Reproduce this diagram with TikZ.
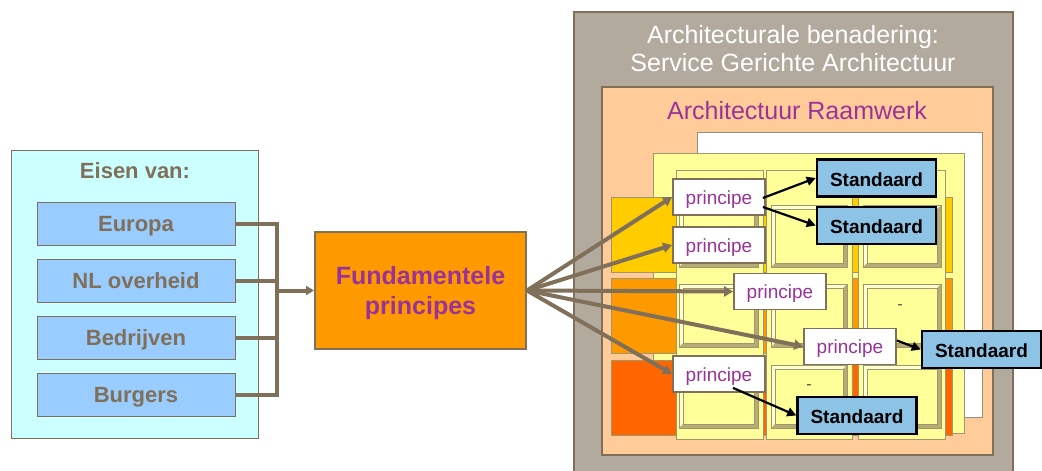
\documentclass[tikz,border=0pt]{standalone}
\usepackage{fontspec}
\setmainfont{Liberation Sans}
\usetikzlibrary{arrows.meta,calc}
\definecolor{brn}{RGB}{128,112,90}
\definecolor{purp}{RGB}{153,51,153}
\definecolor{greybg}{RGB}{179,170,158}
\definecolor{peach}{RGB}{255,204,153}
\definecolor{lyellow}{RGB}{255,255,153}
\definecolor{stdblue}{RGB}{141,195,229}
\definecolor{reqblue}{RGB}{153,204,255}
\definecolor{cyanbg}{RGB}{204,255,255}
\definecolor{forange}{RGB}{255,153,0}
\definecolor{rowA}{RGB}{255,204,0}
\definecolor{rowB}{RGB}{255,153,0}
\definecolor{rowC}{RGB}{255,102,0}
\definecolor{bevlight}{RGB}{255,255,210}
\definecolor{bevdark}{RGB}{182,172,116}
\definecolor{tanline}{RGB}{160,150,110}
\begin{document}
\begin{tikzpicture}[x=1pt,y=-1pt,
  reqbox/.style={draw=brn, line width=1pt, fill=reqblue, minimum width=198pt, minimum height=43pt, inner sep=0pt,
    font=\bfseries\fontsize{22}{26}\selectfont, text=brn, text height=15.8pt, text depth=0pt},
  princ/.style={draw=brn, line width=1.8pt, fill=white, minimum width=92pt, minimum height=36pt, inner sep=0pt,
    font=\fontsize{19}{22}\selectfont, text=purp, text height=14.5pt, text depth=0pt},
  stdbox/.style={draw=black, line width=2.5pt, fill=stdblue, minimum width=119pt, minimum height=37pt, inner sep=0pt,
    font=\bfseries\fontsize{19}{22}\selectfont, text=black, text height=16pt, text depth=0pt},
  gar/.style={draw=brn, line width=4pt, -{Triangle[length=9pt,width=10pt]}},
  busline/.style={draw=brn, line width=4pt},
  bar/.style={draw=black, line width=2.2pt, -{Triangle[length=9pt,width=9pt]}},
  dashlbl/.style={font=\fontsize{16}{18}\selectfont, text=black!70, inner sep=0pt}
]
\useasboundingbox (0,0) rectangle (1042,471);
\clip (0,0) rectangle (1042,471);

% ---------- left side ----------
\node[draw=brn, line width=1pt, fill=cyanbg, minimum width=247pt, minimum height=288pt, inner sep=0pt] (eisen) at (134.5,294) {};
\node[font=\bfseries\fontsize{22}{26}\selectfont, text=brn, anchor=base] (eisenlbl) at (135,178) {Eisen van:};
\node[reqbox] (europa) at (136,223.5) {Europa};
\node[reqbox] (nl) at (136,280.5) {NL overheid};
\node[reqbox] (bedrijven) at (136,338) {Bedrijven};
\node[reqbox] (burgers) at (136,394.5) {Burgers};

\node[draw=brn, line width=2pt, fill=forange, minimum width=211pt, minimum height=117pt, inner sep=0pt, align=center,
  font=\bfseries\fontsize{25}{29.5}\selectfont, text=purp, text depth=0pt] (F) at (420.5,290.5) {Fundamentele\\principes};

\coordinate (busx) at (277,0);
\draw[busline] (europa.east) -| (burgers.east -| busx) -- (burgers.east);
\draw[busline] (nl.east) -- (nl.east -| busx);
\draw[busline] (bedrijven.east) -- (bedrijven.east -| busx);
\draw[busline, -{Triangle[length=8pt,width=9pt]}] (F.west -| busx) -- (F.west);

% ---------- right side: containers ----------
\filldraw[fill=greybg, draw=brn, line width=2pt] (574,12) rectangle (1013,485);
\node[font=\fontsize{25}{28.5}\selectfont, text=white, align=center] (soatitle) at (793,48.5) {Architecturale benadering:\\Service Gerichte Architectuur};
\filldraw[fill=peach, draw=brn, line width=2pt] (602,87) rectangle (993,455);
\node[font=\fontsize{25}{30}\selectfont, text=purp, anchor=base] (raam) at (797,119) {Architectuur Raamwerk};

% ---------- clip-art of the framework ----------
\filldraw[fill=white, draw=brn!80, line width=1pt] (697,132) rectangle (982,417);
\filldraw[fill=lyellow, draw=tanline, line width=0.8pt] (653,153) rectangle (964,433);
\filldraw[fill=rowA, draw=tanline, line width=0.8pt] (611,197) rectangle (952,272);
\filldraw[fill=rowB, draw=tanline, line width=0.8pt] (611,278) rectangle (952,353);
\filldraw[fill=rowC, draw=tanline, line width=0.8pt] (611,360) rectangle (952,435);
\foreach \xa/\xb in {676/763, 766/852, 858/945}
  \filldraw[fill=lyellow, draw=tanline, line width=0.8pt] (\xa,170) rectangle (\xb,439);
\foreach \xa/\xb in {679/758, 771/847, 863/941}
  \foreach \ya/\yb in {205/267, 284/347, 365/428} {
    \fill[lyellow] (\xa,\ya) rectangle (\xb,\yb);
    \fill[bevlight] (\xa,\ya) -- (\xb,\ya) -- ({\xb-4},{\ya+4}) -- ({\xa+4},{\ya+4}) -- ({\xa+4},{\yb-4}) -- (\xa,\yb) -- cycle;
    \fill[bevdark] (\xb,\yb) -- (\xa,\yb) -- ({\xa+4},{\yb-4}) -- ({\xb-4},{\yb-4}) -- ({\xb-4},{\ya+4}) -- (\xb,\ya) -- cycle;
    \draw[tanline, line width=0.8pt] (\xa,\ya) rectangle (\xb,\yb);
    \draw[tanline, line width=0.6pt] ({\xa+4},{\ya+4}) rectangle ({\xb-4},{\yb-4});
  }
\node[dashlbl] (dash1) at (900,307) {-};
\node[dashlbl] (dash2) at (809,387) {-};

% ---------- principes and standaarden ----------
\node[princ] (p1) at (719,197) {principe};
\node[princ] (p2) at (719,245) {principe};
\node[princ] (p3) at (780,291.5) {principe};
\node[princ] (p4) at (850,346.5) {principe};
\node[princ] (p5) at (719,374) {principe};

\node[stdbox] (s1) at (876.5,178) {Standaard};
\node[stdbox] (s2) at (876.5,225.5) {Standaard};
\node[stdbox] (s3) at (981.5,349.5) {Standaard};
\node[stdbox] (s4) at (857,415.5) {Standaard};

\draw[gar] (F.east) -- (p1.west);
\draw[gar] (F.east) -- (p2.west);
\draw[gar] (F.east) -- (p3.west);
\draw[gar] (F.east) -- (p4.west);
\draw[gar] (F.east) -- (p5.west);

\draw[bar] ($(p1.east)+(-3,1)$) -- (s1.west);
\draw[bar] ($(p1.east)+(-3,10)$) -- (s2.west);
\draw[bar] ($(p4.east)+(0,-6)$) -- (s3.west);
\draw[bar] ($(p5.south)+(14,-5)$) -- (s4.west);
\end{tikzpicture}
\end{document}
